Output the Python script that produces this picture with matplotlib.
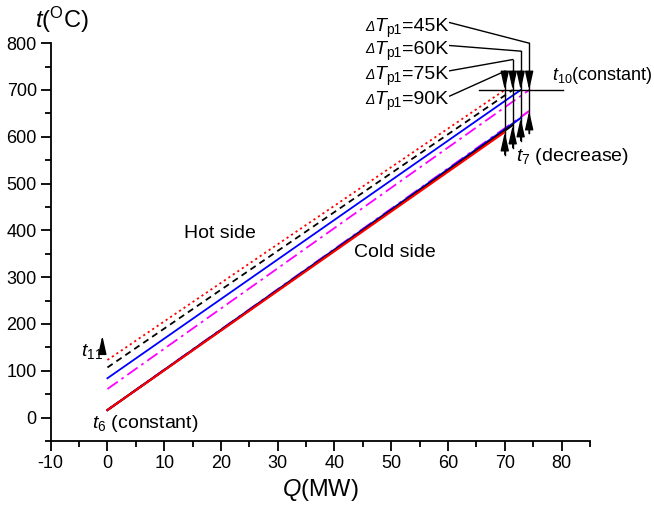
import numpy as np
import matplotlib
matplotlib.use("Agg")
import matplotlib.pyplot as plt

plt.rcParams["font.family"] = ["Liberation Sans", "DejaVu Sans"]
plt.rcParams["mathtext.fontset"] = "custom"
plt.rcParams["mathtext.rm"] = "Liberation Sans"
plt.rcParams["mathtext.it"] = "Liberation Sans:italic"
plt.rcParams["mathtext.bf"] = "Liberation Sans:bold"
plt.rcParams["axes.unicode_minus"] = False

# pinch temperature difference cases
dT_p1 = [45, 60, 75, 90]
# heat duty at the hot end (MW)
q_end = [74.3, 72.8, 71.4, 70.0]
# hot side outlet t11 and cold side outlet t7 (degC)
t11 = [61, 84, 107, 123]
t7 = [655, 640, 625, 610]
t6 = 16      # cold inlet, constant
t10 = 700    # hot inlet, constant

colors = ["#ff00ff", "#0000ff", "black", "#ff0000"]
hot_styles = [(0, (7, 2.5, 1.5, 2.5)), "-", (0, (3.5, 2.5)), (0, (1.2, 1.8))]
cold_styles = [(0, (7, 2.5, 1.5, 2.5)), "-", "-", "-"]

fig = plt.figure(figsize=(6.54, 5.08), dpi=100)
ax = fig.add_axes([0.0775, 0.132, 0.8245, 0.783])

for i in range(len(dT_p1)):
    ax.plot([0, q_end[i]], [t6, t7[i]], color=colors[i], ls=cold_styles[i], lw=1.5)
for i in range(len(dT_p1)):
    ax.plot([0, q_end[i]], [t11[i], t10], color=colors[i], ls=hot_styles[i], lw=1.3)

ax.set_xlim(-10, 85)
ax.set_ylim(-50, 800)
ax.set_xticks(np.arange(-10, 81, 10))
ax.set_xticks(np.arange(-5, 86, 10), minor=True)
ax.set_yticks(np.arange(0, 801, 100))
ax.set_yticks(np.arange(-50, 801, 100), minor=True)
for s in ["top", "right"]:
    ax.spines[s].set_visible(False)
for s in ["left", "bottom"]:
    ax.spines[s].set_linewidth(1.3)
ax.tick_params(which="major", direction="out", length=7, width=1.3, labelsize=13, pad=3)
ax.tick_params(which="minor", direction="out", length=4, width=1.3)

ax.set_xlabel(r"$\mathit{Q}$(MW)", fontsize=17, labelpad=4)
fig.text(0.053, 0.96, r"$\mathit{t}$($^\mathrm{O}$C)", fontsize=17, va="center", ha="left")


def after(prev, s, size, dy, style="normal"):
    # place a text piece right after the previous one
    return ax.annotate(s, xy=(1, 0), xycoords=prev, xytext=(0, dy),
                       textcoords="offset points", fontsize=size,
                       fontstyle=style, ha="left", va="bottom",
                       annotation_clip=False)


arr = dict(arrowstyle="-|>,head_length=0.8,head_width=0.18", color="black", lw=1.0,
           shrinkA=0, shrinkB=0, mutation_scale=14)

# leader lines and pinch arrows
tops = [800, 783, 765, 740]
label_y = [841, 792, 738, 684]
for i in range(len(dT_p1)):
    q = q_end[i]
    d = ax.text(45.4, label_y[i] - 14, "Δ", fontsize=10, fontstyle="italic",
                ha="left", va="baseline")
    tt = after(d, "T", 14, -0.85, "italic")
    p = after(tt, "p1", 10, -1.65)
    after(p, "=%dK" % dT_p1[i], 14, 1.65)
    ax.plot([60.3, q], [label_y[i] + 3, tops[i]], color="black", lw=1.0, clip_on=False)
    bottom = t7[i] - 48
    ax.plot([q, q], [tops[i], bottom], color="black", lw=1.0, clip_on=False)
    ax.annotate("", xy=(q, t10), xytext=(q, t10 + 40), arrowprops=arr)
    ax.annotate("", xy=(q, t7[i]), xytext=(q, bottom), arrowprops=arr)

ax.plot([65.4, 80.3], [t10, t10], color="black", lw=1.0, clip_on=False)
ax.text(78.3, 732, r"$\mathit{t}_{10}$(constant)", fontsize=13, ha="left", va="center")
ax.text(72.0, 558, r"$\mathit{t}_{7}$ (decrease)", fontsize=14, ha="left", va="center")

ax.annotate("", xy=(-0.9, 175), xytext=(-0.9, 135), arrowprops=arr)
ax.text(-4.7, 142, r"$\mathit{t}_{11}$", fontsize=14, ha="left", va="center")
ax.text(-2.7, -12, r"$\mathit{t}_{6}$ (constant)", fontsize=14, ha="left", va="center")

ax.text(19.8, 393, "Hot side", fontsize=14, ha="center", va="center")
ax.text(50.7, 353, "Cold side", fontsize=14, ha="center", va="center")

fig.savefig("out.png", dpi=100)
